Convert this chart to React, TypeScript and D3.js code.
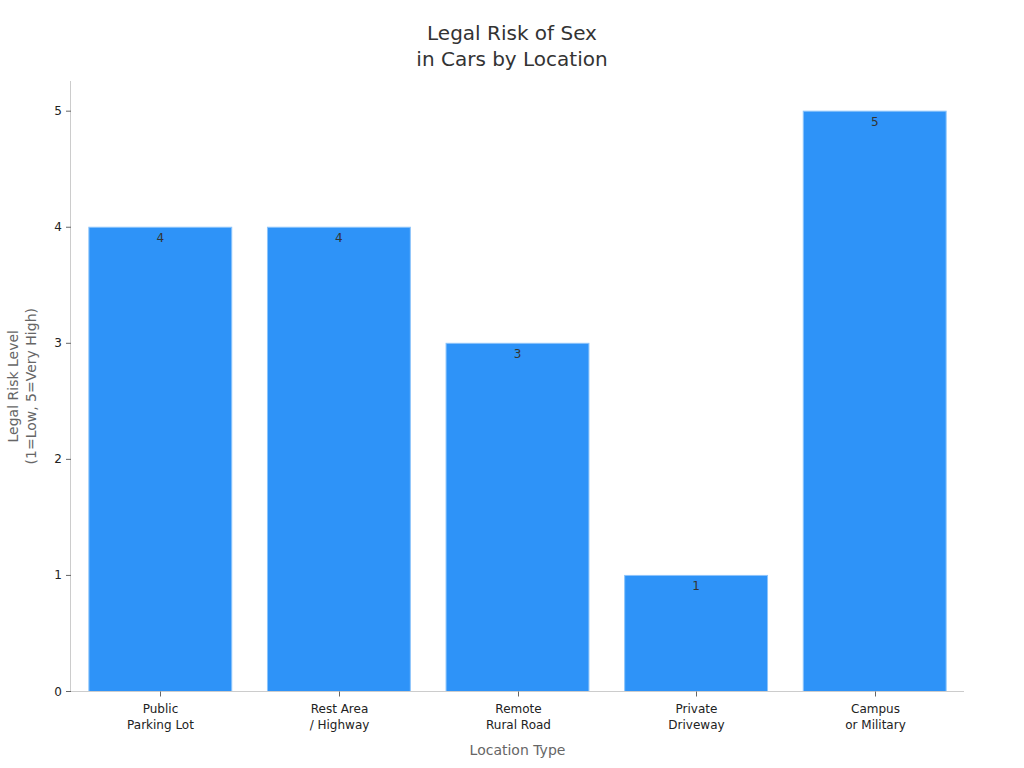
import React from "react";
import * as d3 from "d3";

const categories: string[][] = [
  ["Public", "Parking Lot"],
  ["Rest Area", "/ Highway"],
  ["Remote", "Rural Road"],
  ["Private", "Driveway"],
  ["Campus", "or Military"],
];
const riskValues: number[] = [4, 4, 3, 1, 5];
const yTicks: number[] = [0, 1, 2, 3, 4, 5];
const titleLines: string[] = ["Legal Risk of Sex", "in Cars by Location"];
const yLabelLines: string[] = ["Legal Risk Level", "(1=Low, 5=Very High)"];
const xLabel = "Location Type";

export default function App() {
  const W = 1024;
  const H = 768;
  const left = 71;
  const right = 964;
  const top = 81;
  const bottom = 691.5;
  const font = "DejaVu Sans, sans-serif";

  const keys = categories.map((c) => c.join(" "));
  const x = d3.scaleBand<string>().domain(keys).range([left, right]).paddingInner(0.2).paddingOuter(0.1);
  const y = d3.scaleLinear().domain([0, 5.26]).range([bottom, top]);

  return (
    <svg width={W} height={H} style={{ position: "absolute", left: 0, top: 0 }} fontFamily={font}>
      <rect width={W} height={H} fill="#fff" />
      {titleLines.map((t, i) => (
        <text key={t} x={512} y={40 + i * 26} textAnchor="middle" fontSize={20} fill="#333">
          {t}
        </text>
      ))}
      {riskValues.map((v, i) => {
        const k = keys[i];
        const bx = x(k)!;
        return (
          <g key={k}>
            <rect x={bx} y={y(v)} width={x.bandwidth()} height={y(0) - y(v)} fill="#2e93f8" stroke="#8cc4fb" strokeWidth={1} />
            <text x={bx + x.bandwidth() / 2} y={y(v) + 15} textAnchor="middle" fontSize={12} fill="#333">
              {v}
            </text>
          </g>
        );
      })}
      <line x1={left - 0.5} x2={left - 0.5} y1={top} y2={bottom} stroke="#ccc" />
      {yTicks.map((t) => (
        <g key={t}>
          <line x1={left - 5} x2={left} y1={y(t)} y2={y(t)} stroke="#666" />
          <text x={left - 9} y={y(t) + 4} textAnchor="end" fontSize={12} fill="#222">
            {t}
          </text>
        </g>
      ))}
      <line x1={left} x2={right} y1={bottom} y2={bottom} stroke="#ccc" />
      {categories.map((c, i) => {
        const cx = Math.round(x(keys[i])! + x.bandwidth() / 2) + 0.5;
        return (
          <g key={keys[i]}>
            <line x1={cx} x2={cx} y1={bottom} y2={bottom + 5} stroke="#666" />
            {c.map((line, j) => (
              <text key={j} x={cx} y={bottom + 21 + j * 16} textAnchor="middle" fontSize={12} fill="#222">
                {line}
              </text>
            ))}
          </g>
        );
      })}
      <text x={(left + right) / 2} y={755} textAnchor="middle" fontSize={14} fill="#666">
        {xLabel}
      </text>
      <g transform={`translate(0, ${(top + bottom) / 2}) rotate(-90)`}>
        {yLabelLines.map((t, i) => (
          <text key={t} x={0} y={18 + i * 18} textAnchor="middle" fontSize={14} fill="#666">
            {t}
          </text>
        ))}
      </g>
    </svg>
  );
}
